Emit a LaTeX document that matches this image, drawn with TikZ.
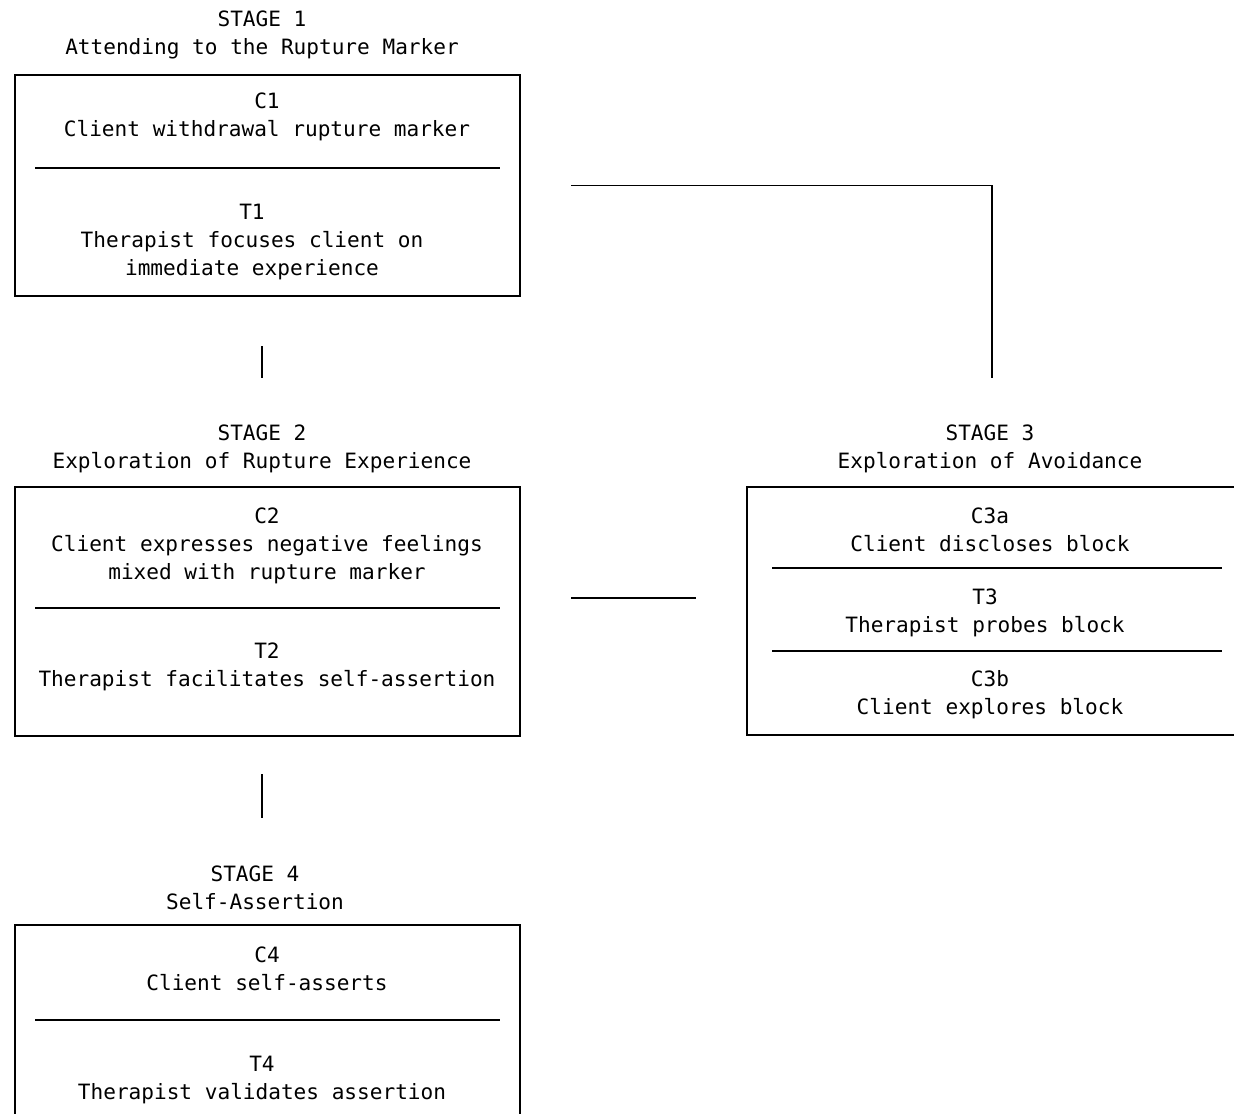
\documentclass[tikz,border=0pt]{standalone}
\usepackage{fontspec}
\setmonofont{DejaVu Sans Mono}
\usetikzlibrary{positioning,calc}

\begin{document}
\begin{tikzpicture}[
  x=0.02cm, y=-0.02cm,
  every node/.style={font=\ttfamily\fontsize{12}{15.9}\selectfont, align=center, inner sep=0pt},
  stagebox/.style={rectangle, draw, line width=1.6pt, minimum width=10.1cm},
  divider/.style={line width=1.1pt},
  link/.style={line width=1.1pt}
]
\useasboundingbox (0,0) rectangle (1234,1114);

% Stage titles
\node (title1) at (262,35) {STAGE 1\\Attending to the Rupture Marker};
\node (title2) at (262,449) {STAGE 2\\Exploration of Rupture Experience};
\node (title3) at (990,449) {STAGE 3\\Exploration of Avoidance};
\node (title4) at (255,888) {STAGE 4\\Self-Assertion};

% Boxes
\node[stagebox, minimum height=4.42cm] (box1) at (267.5,185.5) {};
\node[stagebox, minimum height=4.98cm] (box2) at (267.5,611.5) {};
\node[stagebox, minimum width=9.82cm, minimum height=4.96cm] (box3) at (992.5,611) {};
\node[stagebox, minimum height=4.1cm] (box4) at (267.5,1027.5) {};

% Stage 1
\node (c1) at (267,117) {C1\\Client withdrawal rupture marker};
\node (t1) at (252,242) {T1\\Therapist focuses client on\\immediate experience};
\draw[divider] (35,168) -- (500,168);

% Stage 2
\node (c2) at (267,546) {C2\\Client expresses negative feelings\\mixed with rupture marker};
\node (t2) at (267,667) {T2\\Therapist facilitates self-assertion};
\draw[divider] (35,608) -- (500,608);

% Stage 3
\node (c3a) at (990,530) {C3a\\Client discloses block};
\node (t3) at (985,613) {T3\\Therapist probes block};
\node (c3b) at (990,695) {C3b\\Client explores block};
\draw[divider] (772,568) -- (1222,568);
\draw[divider] (772,651) -- (1222,651);

% Stage 4
\node (c4) at (267,969) {C4\\Client self-asserts};
\node (t4) at (262,1080) {T4\\Therapist validates assertion};
\draw[divider] (35,1020) -- (500,1020);

% Links
\draw[link, shorten <=0.98cm, shorten >=0.94cm] (title2.north |- box1.south) -- (title2.north);
\draw[link, shorten <=0.74cm, shorten >=0.96cm] (title2.south |- box2.south) -- (title2.south |- title4.north);
\draw[link, shorten <=1cm, shorten >=1cm] ($(box2.east)+(0,-13.5)$) -- ($(box3.west)+(0,-13)$);
\draw[link, shorten <=1cm, shorten >=0.94cm] (box1.east) -| ($(title3.north)+(2,0)$);

\end{tikzpicture}
\end{document}
